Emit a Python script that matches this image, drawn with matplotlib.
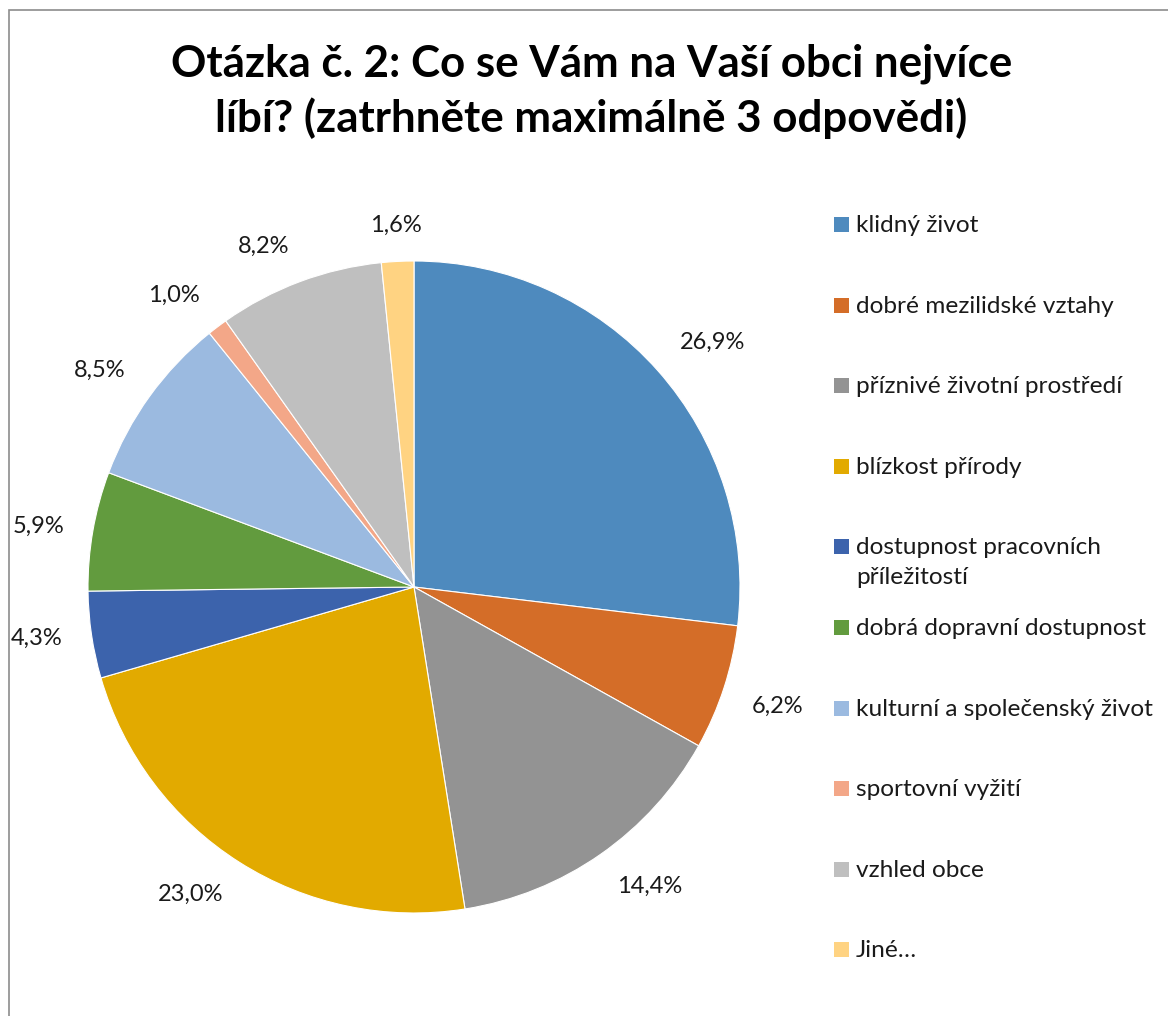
import numpy as np
import matplotlib.pyplot as plt
from matplotlib.patches import Rectangle

plt.rcParams['font.family'] = ['Lato', 'DejaVu Sans']

# survey answers (share of responses, %)
labels = ['klidný život', 'dobré mezilidské vztahy', 'příznivé životní prostředí',
          'blízkost přírody', 'dostupnost pracovních\npříležitostí',
          'dobrá dopravní dostupnost', 'kulturní a společenský život',
          'sportovní vyžití', 'vzhled obce', 'Jiné…']
values = [26.9, 6.2, 14.4, 23.0, 4.3, 5.9, 8.5, 1.0, 8.2, 1.6]
colors = ['#4E8ABE', '#D46D28', '#939393', '#E2AA00', '#3C63AC',
          '#629B3E', '#9BBAE0', '#F3A788', '#BFBFBF', '#FFD382']

W, H = 1168, 1016
fig = plt.figure(figsize=(W / 100, H / 100), dpi=100)

# pie centre (414, 587) px, radius 326 px
cx, cy, r = 414, 587, 326
ax = fig.add_axes([(cx - r) / W, 1 - (cy + r) / H, 2 * r / W, 2 * r / H])
wedges, _ = ax.pie(values, colors=colors, startangle=90, counterclock=False,
                   radius=1.0,
                   wedgeprops=dict(edgecolor='white', linewidth=0.8))
ax.set_xlim(-1, 1)
ax.set_ylim(-1, 1)
ax.set_aspect('equal')
ax.axis('off')

# data labels just outside the rim, box pushed away from the circle
for w, v in zip(wedges, values):
    ang = np.deg2rad((w.theta1 + w.theta2) / 2)
    c, s = np.cos(ang), np.sin(ang)
    ha = 'left' if c > 0.25 else ('right' if c < -0.25 else 'center')
    va = 'bottom' if s > 0.25 else ('top' if s < -0.25 else 'center')
    ax.text(1.09 * c, 1.08 * s, f'{v:.1f}%'.replace('.', ','),
            ha=ha, va=va, fontsize=17, color='#1a1a1a')

# title, two lines
fig.text(592 / W, 1 - 77 / H, 'Otázka č. 2: Co se Vám na Vaší obci nejvíce',
         ha='center', va='baseline', fontsize=31.6, fontweight='bold')
fig.text(591 / W, 1 - 132 / H, 'líbí? (zatrhněte maximálně 3 odpovědi)',
         ha='center', va='baseline', fontsize=31.6, fontweight='bold')

# legend drawn by hand so the two-line entry keeps its marker at the first line
for i, (lab, col) in enumerate(zip(labels, colors)):
    base = 232 + 80.6 * i
    fig.patches.append(Rectangle((834 / W, 1 - base / H), 15 / W, 15 / H,
                                 transform=fig.transFigure, facecolor=col,
                                 edgecolor='none'))
    for k, line in enumerate(lab.split('\n')):
        fig.text(856 / W, 1 - (base + 30 * k) / H, line, ha='left',
                 va='baseline', fontsize=17.6, color='#1a1a1a')

# chart area border (only left and top edges are visible)
fig.patches.append(Rectangle((8.5 / W, -0.05), 1.1, 1 - 10 / H + 0.05,
                             transform=fig.transFigure, facecolor='none',
                             edgecolor='#8c8c8c', linewidth=1.2))

fig.savefig('out.png', dpi=100)
